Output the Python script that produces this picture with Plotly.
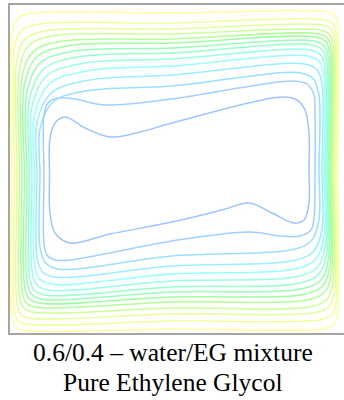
import plotly.graph_objects as go

# Streamlines, cavity mesh coordinates (x: 0..334, y: 0..328)
s01_x = [2, 2, 7.2, 20, 162, 317.5, 324.6, 327.5, 327.5, 327.5, 324, 315.5, 162, 12, 4.9, 2]
s01_y = [158, 301.5, 314.3, 319.5, 320, 321, 317.5, 309, 163, 18.5, 8.6, 4.5, 4, 3, 6.5, 15]
s02_x = [4.5, 4.5, 10.9, 26.5, 162, 315, 322.8, 326, 326, 326, 322, 312, 162, 15.5, 7.7, 4.5]
s02_y = [158, 286.5, 302.1, 308.5, 310, 313, 309.2, 300, 163, 30.5, 18.4, 13.5, 12, 9, 12.8, 22]
s03_x = [7, 7, 15.1, 35, 162, 312.5, 321, 324.5, 324.5, 324.5, 319.6, 307.5, 162, 19, 10.5, 7]
s03_y = [158, 274, 293.9, 302, 304, 308, 303.9, 294, 163, 42, 27.1, 21, 19, 15, 19.1, 29]
s04_x = [9.5, 9.5, 18.8, 41.5, 162, 310, 319.2, 323, 323, 323, 317.5, 304, 162, 22.5, 13.3, 9.5]
s04_y = [158, 264, 287.4, 297, 299, 303, 298.7, 288, 163, 52, 34.3, 27, 25, 21, 25.4, 36]
s05_x = [12, 12, 23, 50, 162, 308.5, 317.7, 321.5, 321.5, 321.5, 315.1, 299.5, 162, 25, 15.8, 12]
s05_y = [158, 255.5, 281.1, 291.5, 294, 299, 294.4, 283, 163, 60.5, 41.3, 33.5, 31, 26, 30.6, 42]
s06_x = [14.5, 14.5, 26.7, 56.5, 162, 306, 315.9, 320, 320, 320, 313, 296, 162, 28.5, 18.6, 14.5]
s06_y = [158, 249, 276, 287, 290, 296, 291.1, 279, 163, 68, 47.4, 39, 36, 30, 34.9, 47]
s07_x = [17, 17, 30, 62, 162, 304.5, 314.4, 318.5, 318.5, 318.5, 311.2, 293.5, 162, 31, 21.1, 17]
s07_y = [158, 241.5, 269.9, 281.5, 285, 292, 286.8, 274, 163, 74.5, 53.2, 44.5, 41, 34, 39.2, 52]
s08_x = [19.5, 19.5, 33.4, 67.5, 162, 302, 312.7, 317, 317, 317, 309.2, 290, 162, 34.5, 23.9, 19.5]
s08_y = [158, 234, 263.8, 276, 280, 288, 282.8, 270, 163, 82, 59.3, 50, 46, 38, 43.2, 56]
s09_x = [22, 22, 36.5, 72, 162, 300.5, 311.2, 315.5, 315.5, 315.5, 307.4, 287.5, 162, 37, 26.4, 22]
s09_y = [158, 226.5, 257, 269.5, 274, 283, 277.5, 264, 163, 88.5, 65.8, 56.5, 52, 43, 48.5, 62]
s10_x = [24.5, 24.5, 39.6, 76.5, 162, 298, 309.4, 314, 314, 314, 305.6, 285, 162, 40.5, 29.1, 24.5]
s10_y = [158, 218, 249.2, 262, 267, 277, 271.2, 257, 163, 97, 73.6, 64, 59, 49, 54.8, 69]
s11_x = [27, 27, 41.5, 77, 162, 295, 307.1, 312, 312, 312, 303.9, 284, 162, 44, 31.9, 27]
s11_y = [158, 210.5, 240.3, 252.5, 258, 269, 263.2, 249, 163, 104.5, 81.8, 72.5, 67, 56, 61.8, 76]
s12_x = [30, 30, 43, 75, 162, 291, 303.8, 309, 309, 309, 301.5, 283, 162, 48, 35.2, 30]
s12_y = [158, 204, 231, 242, 247, 260, 253.6, 238, 163, 113.5, 92.2, 83.5, 77, 64, 70.4, 86]
s13_x = [34, 34, 38, 48, 65, 95, 162, 282, 297, 304, 305, 305, 304, 301, 290, 270, 239, 162, 60, 45, 37, 34]
s13_y = [158, 218, 230, 235, 234, 228, 234, 252, 249, 238, 220, 163, 115, 103, 97, 97, 101, 92, 73, 73, 78, 90]
s14_x = [39.5, 40, 45, 55, 75, 100, 130, 162, 272, 287, 295, 299, 299, 299, 294, 284, 262, 239, 212, 162, 100, 60, 45, 40]
s14_y = [158, 195, 210, 216, 205, 196, 201, 210, 236, 233, 223, 200, 163, 130, 113, 110, 120, 130, 123, 111, 99, 90, 100, 120]

streams_x = [s01_x, s02_x, s03_x, s04_x, s05_x, s06_x, s07_x, s08_x, s09_x, s10_x, s11_x, s12_x, s13_x, s14_x]
streams_y = [s01_y, s02_y, s03_y, s04_y, s05_y, s06_y, s07_y, s08_y, s09_y, s10_y, s11_y, s12_y, s13_y, s14_y]

caption_lines = ["0.6/0.4 \u2013 water/EG mixture", "Pure Ethylene Glycol"]

line_colors = ["#ffffa0", "#f5ff99", "#e4ff99", "#ccff99", "#b3ff99", "#a0ffa0", "#99ffb8",
               "#99ffcc", "#99ffe6", "#99ffff", "#99efff", "#99e0ff", "#a0d0ff", "#a0c4ff"]

fig = go.Figure()
for xs, ys, col in zip(streams_x, streams_y, line_colors):
    fig.add_trace(go.Scatter(
        x=xs + xs[:1], y=ys + ys[:1], mode="lines",
        line=dict(color=col, width=1.5, shape="spline", smoothing=1.0),
        hoverinfo="skip", showlegend=False))

fig.update_layout(
    width=344, height=400,
    margin=dict(l=10, r=0, t=5, b=67),
    paper_bgcolor="white", plot_bgcolor="white",
    xaxis=dict(range=[0, 334], showgrid=False, zeroline=False, showticklabels=False, ticks="",
               showline=True, mirror=True, linecolor="#a6a6a6", linewidth=1.5),
    yaxis=dict(range=[0, 328], showgrid=False, zeroline=False, showticklabels=False, ticks="",
               showline=True, mirror=False, linecolor="#a6a6a6", linewidth=1.5),
)

for txt, ypos in zip(caption_lines, [-0.058, -0.150]):
    fig.add_annotation(text=txt, xref="paper", yref="paper", x=0.487, y=ypos,
                       xanchor="center", yanchor="middle", showarrow=False,
                       font=dict(family="Liberation Serif", size=25.5, color="#000000"))

fig.write_html("out.html")
